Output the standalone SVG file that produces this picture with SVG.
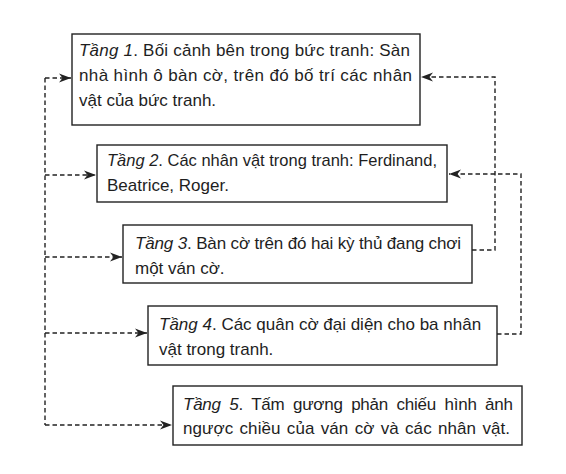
<svg xmlns="http://www.w3.org/2000/svg" width="566" height="474" viewBox="0 0 566 474">
<defs>
<style>
.box{fill:#fff;stroke:#222;stroke-width:1.4}
.t{font-family:"Liberation Sans",Arial,sans-serif;font-size:17px;fill:#1e1e1e}
.i{font-style:italic}
.c{fill:none;stroke:#222;stroke-width:1.4;stroke-dasharray:4.5 3}
</style>
<marker id="ah" markerWidth="13" markerHeight="10" refX="12" refY="5" orient="auto" markerUnits="userSpaceOnUse">
<path d="M0,0.5 L12,5 L0,9.5 L3.5,5 Z" fill="#222"/>
</marker>
</defs>
<rect width="566" height="474" fill="#fff"/>
<g id="connectors">
<path class="c" d="M45,78 V425"/>
<path class="c" d="M45,78 H71" marker-end="url(#ah)"/>
<path class="c" d="M45,175 H96" marker-end="url(#ah)"/>
<path class="c" d="M45,257 H122" marker-end="url(#ah)"/>
<path class="c" d="M45,333 H147" marker-end="url(#ah)"/>
<path class="c" d="M45,425 H172" marker-end="url(#ah)"/>
<path class="c" d="M472,250 H495 V77 H421" marker-end="url(#ah)"/>
<path class="c" d="M497,334 H521 V174 H449" marker-end="url(#ah)"/>
</g>
<g id="node1">
<rect class="box" x="72" y="34" width="348" height="91"/>
<text class="t" x="79" y="56" textLength="331" lengthAdjust="spacing"><tspan class="i">Tầng 1</tspan>. Bối cảnh bên trong bức tranh: Sàn</text>
<text class="t" x="79" y="81" textLength="333" lengthAdjust="spacing">nhà hình ô bàn cờ, trên đó bố trí các nhân</text>
<text class="t" x="79" y="106">vật của bức tranh.</text>
</g>
<g id="node2">
<rect class="box" x="97" y="145" width="350" height="57"/>
<text class="t" x="107" y="166" textLength="330" lengthAdjust="spacingAndGlyphs"><tspan class="i">Tầng 2</tspan>. Các nhân vật trong tranh: Ferdinand,</text>
<text class="t" x="107" y="191">Beatrice, Roger.</text>
</g>
<g id="node3">
<rect class="box" x="123" y="225" width="349" height="58"/>
<text class="t" x="135" y="249" textLength="326" lengthAdjust="spacing"><tspan class="i">Tầng 3</tspan>. Bàn cờ trên đó hai kỳ thủ đang chơi</text>
<text class="t" x="135" y="274">một ván cờ.</text>
</g>
<g id="node4">
<rect class="box" x="148" y="306" width="349" height="59"/>
<text class="t" x="159" y="330"><tspan class="i">Tầng 4</tspan>. Các quân cờ đại diện cho ba nhân</text>
<text class="t" x="159" y="355">vật trong tranh.</text>
</g>
<g id="node5">
<rect class="box" x="173" y="386" width="349" height="59"/>
<text class="t" x="183" y="410" word-spacing="4" textLength="330" lengthAdjust="spacing"><tspan class="i">Tầng 5</tspan>. Tấm gương phản chiếu hình ảnh</text>
<text class="t" x="183" y="434" word-spacing="1.5" textLength="327" lengthAdjust="spacing">ngược chiều của ván cờ và các nhân vật.</text>
</g>
</svg>
